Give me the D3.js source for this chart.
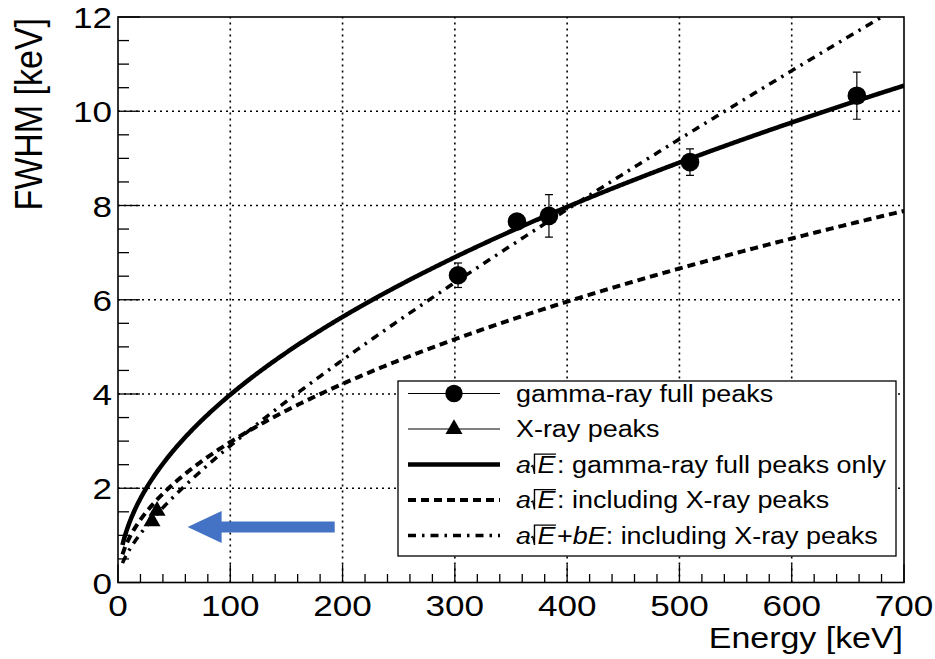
<!DOCTYPE html>
<html><head><meta charset="utf-8">
<script src="https://cdn.jsdelivr.net/npm/d3@7/dist/d3.min.js"></script>
<style>
body{margin:0;background:#fff}
text{font-family:"Liberation Sans",Arial,Helvetica,sans-serif;fill:#000}
</style>
</head><body>
<svg id="c" width="935" height="659"></svg>
<script>
// ---- data ----
const gammaEnergy = [302.85, 355.3, 383.8, 509.4, 658.0];
const gammaFWHM   = [6.52, 7.66, 7.78, 8.92, 10.33];
const gammaErr    = [0.26, 0.12, 0.45, 0.28, 0.50];
const xrayEnergy  = [30.3, 34.8];
const xrayFWHM    = [1.30, 1.52];
const xrayErr     = [0.06, 0.06];
// fit parameters (FWHM = a*sqrt(E) + b*E)
const fitNames = ["sqrtGamma", "sqrtAll", "sqrtLinAll"];
const fitA     = [0.3985, 0.298, 0.1842];
const fitB     = [0, 0, 0.01058];
const fitEmin  = [4, 4, 4];
const xTicks = [0,100,200,300,400,500,600,700];
const yTicks = [0,2,4,6,8,10,12];
const legendLabels = ["gamma-ray full peaks","X-ray peaks",": gamma-ray full peaks only",": including X-ray peaks",": including X-ray peaks"];
const arrowFrom = [193, 1.18], arrowTo = [62, 1.18];

// ---- layout ----
const svg = d3.select("#c");
const X0=118, X1=904, Y0=582.5, Y1=17;
const x = d3.scaleLinear().domain([0,700]).range([X0,X1]);
const y = d3.scaleLinear().domain([0,12]).range([Y0,Y1]);
const SX = 1.17;

// grid
const g = svg.append("g");
g.selectAll(".vg").data(xTicks.filter(t=>t>0&&t<700)).enter().append("line")
  .attr("x1",d=>x(d)).attr("x2",d=>x(d)).attr("y1",Y0).attr("y2",Y1)
  .attr("stroke","#000").attr("stroke-width",1.6).attr("stroke-dasharray","2,4");
g.selectAll(".hg").data(yTicks.filter(t=>t>0&&t<12)).enter().append("line")
  .attr("y1",d=>y(d)).attr("y2",d=>y(d)).attr("x1",X0).attr("x2",X1)
  .attr("stroke","#000").attr("stroke-width",1.6).attr("stroke-dasharray","2,4");

// ticks (inward)
const xMinor = d3.range(0,700.1,20);
g.selectAll(".xt").data(xMinor).enter().append("line")
  .attr("x1",d=>x(d)).attr("x2",d=>x(d)).attr("y1",Y0)
  .attr("y2",d=> Y0 - (d%100===0?18:8.5)).attr("stroke","#000").attr("stroke-width",1.3);
const yMinor = d3.range(0,12.01,0.5);
g.selectAll(".yt").data(yMinor).enter().append("line")
  .attr("y1",d=>y(d)).attr("y2",d=>y(d)).attr("x1",X0)
  .attr("x2",d=> X0 + (d%2===0?22:11)).attr("stroke","#000").attr("stroke-width",1.3);

// frame
svg.append("rect").attr("x",X0).attr("y",Y1).attr("width",X1-X0).attr("height",Y0-Y1)
  .attr("fill","none").attr("stroke","#000").attr("stroke-width",1.6);

// tick labels
function stext(parent, tx, ty, str, size, anchor, sx){
  return parent.append("text").attr("transform",`translate(${tx},${ty}) scale(${sx||SX},1)`)
    .attr("font-size",size).attr("text-anchor",anchor||"start").text(str);
}
xTicks.forEach(t=> stext(svg, x(t), 616, t, 30, "middle"));
yTicks.forEach(t=> stext(svg, 112, y(t)+11, t, 30, "end"));

// axis titles
stext(svg, 903, 648, "Energy [keV]", 29, "end");
svg.append("text").attr("transform",`translate(42,18) rotate(-90) scale(1,1.15)`)
  .attr("font-size",34).attr("text-anchor","end").text("FWHM [keV]");

// clip
svg.append("clipPath").attr("id","clip").append("rect")
  .attr("x",X0).attr("y",Y1).attr("width",X1-X0).attr("height",Y0-Y1);
const plot = svg.append("g").attr("clip-path","url(#clip)");

// fit curves
const styles = [
  {w:4.5, dash:null},
  {w:4, dash:"8,5"},
  {w:3.5, dash:"8,6,2.5,6"}
];
const line = d3.line().x(d=>x(d[0])).y(d=>y(d[1]));
fitNames.forEach((n,i)=>{
  const pts = d3.range(fitEmin[i], 700.01, 1).map(E=>[E, fitA[i]*Math.sqrt(E)+fitB[i]*E]);
  plot.append("path").attr("d",line(pts)).attr("fill","none").attr("stroke","#000")
    .attr("stroke-width",styles[i].w).attr("stroke-dasharray",styles[i].dash);
});

// error bars + markers
function errbars(E,F,Er){
  E.forEach((e,i)=>{
    const cx=x(e);
    plot.append("line").attr("x1",cx).attr("x2",cx).attr("y1",y(F[i]-Er[i])).attr("y2",y(F[i]+Er[i])).attr("stroke","#000").attr("stroke-width",1.2);
    [F[i]-Er[i],F[i]+Er[i]].forEach(v=> plot.append("line").attr("x1",cx-4).attr("x2",cx+4).attr("y1",y(v)).attr("y2",y(v)).attr("stroke","#000").attr("stroke-width",1.2));
  });
}
errbars(gammaEnergy,gammaFWHM,gammaErr);
errbars(xrayEnergy,xrayFWHM,xrayErr);
plot.selectAll(".gp").data(gammaEnergy).enter().append("circle")
  .attr("cx",d=>x(d)).attr("cy",(d,i)=>y(gammaFWHM[i])).attr("r",9.3).attr("fill","#000");
const tri = d3.symbol().type(d3.symbolTriangle).size(125);
plot.selectAll(".xp").data(xrayEnergy).enter().append("path")
  .attr("d",tri).attr("transform",(d,i)=>`translate(${x(d)},${y(xrayFWHM[i])})`).attr("fill","#000");

// blue arrow
(function(){
  const xa=x(arrowFrom[0]), xb=x(arrowTo[0]), ya=y(arrowFrom[1]);
  const headLen=34, sh=5.5, hh=16;
  const pts=[[xa,ya-sh],[xb+headLen,ya-sh],[xb+headLen,ya-hh],[xb,ya],[xb+headLen,ya+hh],[xb+headLen,ya+sh],[xa,ya+sh]];
  svg.append("polygon").attr("points",pts.map(p=>p.join(",")).join(" ")).attr("fill","#4472C4");
})();

// legend
const LX=398, LY=381, LW=498, LH=175;
svg.append("rect").attr("x",LX).attr("y",LY).attr("width",LW).attr("height",LH)
  .attr("fill","#fff").attr("stroke","#000").attr("stroke-width",1.3);
const rowY = i => LY + 12.5 + i*35.5;
const sampleX0=408, sampleX1=500, sampleXm=454, textX=516, LFS=23;
[0,1].forEach(i=>{
  svg.append("line").attr("x1",sampleX0).attr("x2",sampleX1).attr("y1",rowY(i)).attr("y2",rowY(i)).attr("stroke","#000").attr("stroke-width",1.2);
});
svg.append("circle").attr("cx",sampleXm).attr("cy",rowY(0)).attr("r",8.7).attr("fill","#000");
svg.append("path").attr("d",tri).attr("transform",`translate(${sampleXm},${rowY(1)})`).attr("fill","#000");
[0,1,2].forEach(k=>{
  const i=k+2;
  svg.append("line").attr("x1",sampleX0).attr("x2",sampleX1).attr("y1",rowY(i)).attr("y2",rowY(i))
    .attr("stroke","#000").attr("stroke-width",styles[k].w).attr("stroke-dasharray",styles[k].dash);
});
const base = i => rowY(i)+8;
stext(svg, textX, base(0), legendLabels[0], LFS);
stext(svg, textX, base(1), legendLabels[1], LFS);
[2,3,4].forEach(i=>{
  const grp = svg.append("g").attr("transform",`translate(${textX},${base(i)}) scale(${SX},1)`);
  let cx=0;
  const add=(str,italic)=>{
    const t=grp.append("text").attr("x",cx).attr("y",0).attr("font-size",LFS).text(str);
    if(italic) t.attr("font-style","italic");
    cx+=t.node().getComputedTextLength();
    return t;
  };
  add("a",true);
  const rx=cx+3, top=-LFS*0.8;
  cx+=5.5;
  add("E",true);
  const eEnd=cx+0.5;
  grp.append("path").attr("d",`M${rx-3},${-6} L${rx-1.5},${-7} L${rx},${1.5} L${rx},${top} L${eEnd},${top}`)
    .attr("fill","none").attr("stroke","#000").attr("stroke-width",1.2);
  cx+=1.5;
  if(i===4){ add("+",false); add("bE",true); }
  add(legendLabels[i],false);
});
</script>
</body></html>
